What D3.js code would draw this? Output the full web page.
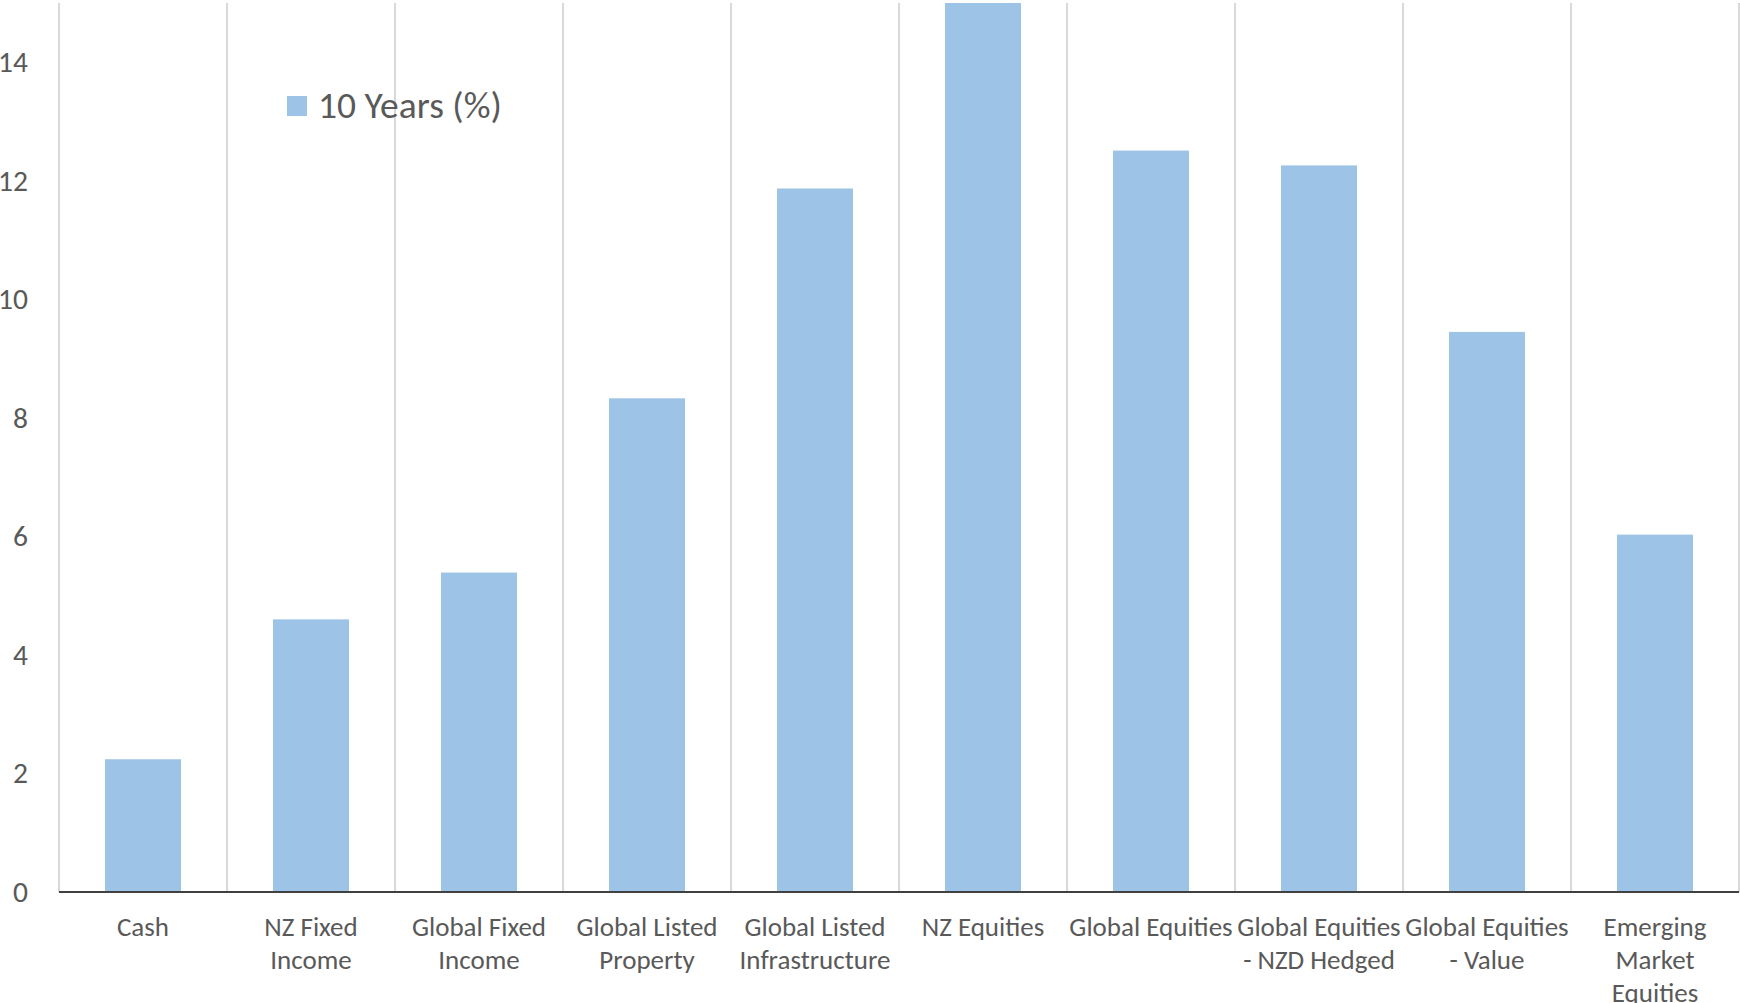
<!DOCTYPE html>
<html>
<head>
<meta charset="utf-8">
<script src="https://cdn.jsdelivr.net/npm/d3@7"></script>
<style>
  html, body { margin: 0; padding: 0; background: #ffffff; }
  svg { display: block; }
  text { font-family: Carlito, Calibri, Lato, "Noto Sans", sans-serif; fill: #595959; }
</style>
</head>
<body>
<svg id="chart" width="1740" height="1003"></svg>
<script>
// Asset classes and their 10-year annualised returns (%)
const categories = [
  "Cash",
  "NZ Fixed Income",
  "Global Fixed Income",
  "Global Listed Property",
  "Global Listed Infrastructure",
  "NZ Equities",
  "Global Equities",
  "Global Equities - NZD Hedged",
  "Global Equities - Value",
  "Emerging Market Equities"
];
const tenYearReturns = [2.24, 4.60, 5.39, 8.33, 11.87, 15.0, 12.51, 12.26, 9.45, 6.03];

// Category labels as they wrap under the axis
const labelLines = [
  ["Cash"],
  ["NZ Fixed", "Income"],
  ["Global Fixed", "Income"],
  ["Global Listed", "Property"],
  ["Global Listed", "Infrastructure"],
  ["NZ Equities"],
  ["Global Equities"],
  ["Global Equities", "- NZD Hedged"],
  ["Global Equities", "- Value"],
  ["Emerging", "Market", "Equities"]
];
const yTicks = [0, 2, 4, 6, 8, 10, 12, 14];
const seriesName = "10 Years (%)";

const svg = d3.select("#chart");
const plotLeft = 59, plotRight = 1739, plotTop = 3, plotBottom = 892;

const x = d3.scaleBand()
  .domain(categories)
  .range([plotLeft, plotRight])
  .paddingInner(0.548)
  .paddingOuter(0.274);

const y = d3.scaleLinear()
  .domain([0, 15])
  .range([plotBottom, plotTop]);

const barColor = "#9dc3e6";

// Vertical separators between categories
const boundaries = categories.map(c => x(c) + x.bandwidth() / 2 - x.step() / 2);
boundaries.push(plotRight);
svg.append("g")
  .selectAll("line")
  .data(boundaries)
  .join("line")
  .attr("x1", d => d).attr("x2", d => d)
  .attr("y1", plotTop).attr("y2", plotBottom)
  .attr("stroke", "#d9d9d9")
  .attr("stroke-width", 2);

// Bars, clipped to the plot area
svg.append("clipPath").attr("id", "plot")
  .append("rect")
  .attr("x", plotLeft).attr("y", plotTop)
  .attr("width", plotRight - plotLeft).attr("height", plotBottom - plotTop);

svg.append("g")
  .attr("clip-path", "url(#plot)")
  .selectAll("rect")
  .data(categories.map((c, i) => ({ c, v: tenYearReturns[i] })))
  .join("rect")
  .attr("x", d => x(d.c))
  .attr("width", x.bandwidth())
  .attr("y", d => y(d.v))
  .attr("height", d => y(0) - y(d.v))
  .attr("fill", barColor);

// Y axis labels (no axis line or ticks)
const yAxis = d3.axisLeft(y)
  .tickValues(yTicks)
  .tickSize(0)
  .tickPadding(31)
  .tickFormat(d3.format("d"));
const gy = svg.append("g")
  .attr("transform", `translate(${plotLeft},0)`)
  .call(yAxis)
  .attr("font-family", null)
  .attr("font-size", null);
gy.select(".domain").remove();
gy.selectAll("text")
  .attr("font-size", 29.5)
  .attr("fill", "#595959");

// X axis: baseline and wrapped category labels
const xAxis = d3.axisBottom(x).tickSize(0).tickFormat("");
const gx = svg.append("g")
  .attr("transform", `translate(0,${plotBottom})`)
  .call(xAxis)
  .attr("font-family", null)
  .attr("font-size", null);
gx.select(".domain")
  .attr("d", `M${plotLeft},0H${plotRight}`)
  .attr("stroke", "#404040")
  .attr("stroke-width", 2);

gx.selectAll(".tick").each(function (d, i) {
  const t = d3.select(this).append("text")
    .attr("text-anchor", "middle")
    .attr("font-size", 27)
    .attr("fill", "#595959");
  labelLines[i].forEach((line, k) => {
    t.append("tspan")
      .attr("x", 0)
      .attr("y", 44 + k * 33)
      .text(line);
  });
});

// Legend
const legend = svg.append("g").attr("transform", "translate(287,96)");
legend.append("rect")
  .attr("width", 20).attr("height", 20)
  .attr("fill", barColor);
legend.append("text")
  .attr("x", 31).attr("y", 22)
  .attr("font-size", 37.5)
  .attr("fill", "#595959")
  .text(seriesName);
</script>
</body>
</html>
